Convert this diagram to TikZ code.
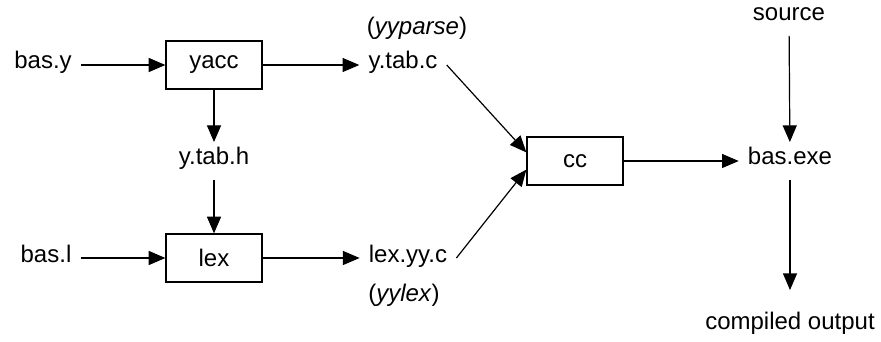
\documentclass[tikz,border=0pt]{standalone}
\usepackage{fontspec}
\setmainfont{Liberation Sans}
\usetikzlibrary{arrows.meta}

\begin{document}
\begin{tikzpicture}[x=0.75pt,y=0.75pt,yscale=-1,xscale=1,
		font=\fontsize{18}{22}\selectfont,
		prog/.style={draw, line width=0.9pt, minimum width=72pt, minimum height=36pt, inner sep=0pt},
		file/.style={inner xsep=6.75pt, inner ysep=9pt, text height=0.8em, text depth=0.2em},
		flow/.style={line width=0.9pt, -{Triangle[length=12.5pt,width=10.5pt]}}]
		\useasboundingbox (0,0) rectangle (881,342);

		\draw (43,65) node [file] (basy) {bas.y};
		\draw (214,65) node [prog] (yacc) {yacc};
		\draw (403,65) node [file] (ytabc) {y.tab.c};
		\draw (417,31) node [file] (yyparse) {(\textit{yyparse})};
		\draw (214,161) node [file] (ytabh) {y.tab.h};
		\draw (46,258) node [file] (basl) {bas.l};
		\draw (214,258) node [prog] (lex) {lex};
		\draw (408,258) node [file] (lexyyc) {lex.yy.c};
		\draw (404,297) node [file] (yylex) {(\textit{yylex})};
		\draw (575,161) node [prog] (cc) {cc};
		\draw (790,161) node [file] (basexe) {bas.exe};
		\draw (789,17) node [file] (source) {source};
		\draw (790,325) node [file] (compiled) {compiled output};

		\draw [flow] (basy) -- (yacc);
		\draw [flow] (yacc) -- (ytabc);
		\draw [flow] (yacc) -- (ytabh);
		\draw [flow] (ytabh) -- (lex);
		\draw [flow] (basl) -- (lex);
		\draw [flow] (lex) -- (lexyyc);
		\draw [flow] (ytabc.east) -- (cc.170);
		\draw [flow] (lexyyc.east) -- (cc.190);
		\draw [flow] (cc) -- (basexe);
		\draw [flow] (source) -- (basexe);
		\draw [flow, shorten >=12pt] (basexe) -- (compiled);
	\end{tikzpicture}
\end{document}
